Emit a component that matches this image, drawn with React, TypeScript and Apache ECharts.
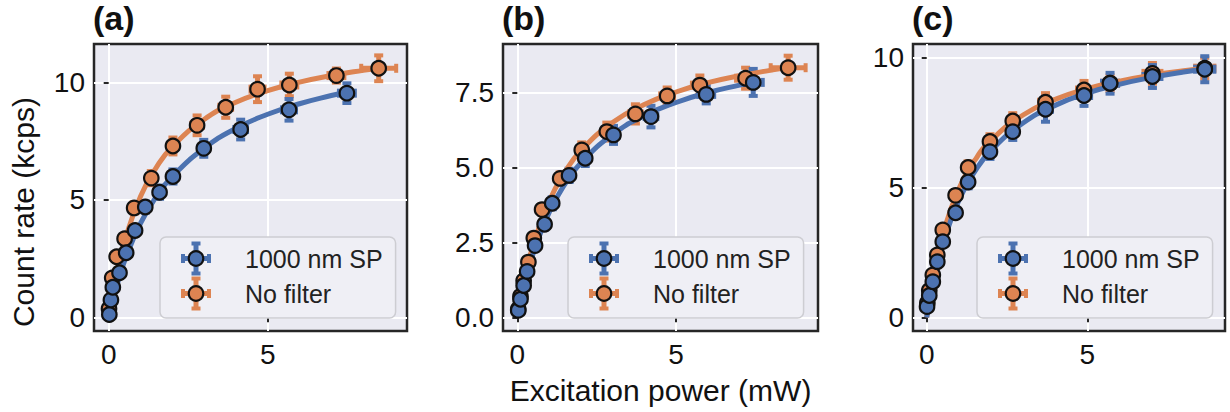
import React, { useEffect, useRef } from 'react';
import * as echarts from 'echarts';

const BLUE = '#4C72B0';
const ORANGE = '#DD8452';
const SP_NAME = '1000 nm SP';
const NF_NAME = 'No filter';
const FONT = '"Liberation Sans", Arial, Helvetica, sans-serif';

// rows: [power (mW), count rate (kcps), power error, rate error]
const aSP = [
  [0.02, 0.12, 0.01, 0.04], [0.07, 0.74, 0.01, 0.07], [0.13, 1.28, 0.02, 0.1],
  [0.34, 1.9, 0.03, 0.12], [0.55, 2.75, 0.04, 0.16], [0.83, 3.7, 0.06, 0.2],
  [1.15, 4.7, 0.08, 0.24], [1.6, 5.33, 0.1, 0.28], [2.02, 6.0, 0.12, 0.3],
  [2.99, 7.2, 0.16, 0.36], [4.15, 8.0, 0.2, 0.42], [5.67, 8.84, 0.22, 0.46],
  [7.49, 9.55, 0.25, 0.42],
];
const aNF = [
  [0.01, 0.36, 0.01, 0.05], [0.11, 1.68, 0.02, 0.1], [0.25, 2.58, 0.03, 0.14],
  [0.5, 3.35, 0.05, 0.18], [0.8, 4.66, 0.07, 0.24], [1.34, 5.93, 0.1, 0.3],
  [2.02, 7.3, 0.14, 0.36], [2.78, 8.18, 0.18, 0.42], [3.68, 8.95, 0.2, 0.45],
  [4.68, 9.72, 0.22, 0.55], [5.68, 9.9, 0.25, 0.48], [7.16, 10.3, 0.25, 0.3],
  [8.49, 10.61, 0.55, 0.55],
];
const bSP = [
  [0.03, 0.23, 0.01, 0.04], [0.1, 0.6, 0.01, 0.06], [0.2, 1.06, 0.02, 0.08],
  [0.31, 1.53, 0.03, 0.1], [0.56, 2.39, 0.04, 0.14], [0.86, 3.1, 0.06, 0.17],
  [1.1, 3.8, 0.07, 0.2], [1.63, 4.73, 0.1, 0.22], [2.14, 5.3, 0.12, 0.26],
  [3.03, 6.08, 0.16, 0.3], [4.21, 6.69, 0.2, 0.36], [5.95, 7.43, 0.25, 0.3],
  [7.43, 7.83, 0.3, 0.45],
];
const bNF = [
  [0.03, 0.27, 0.01, 0.04], [0.1, 0.7, 0.01, 0.06], [0.2, 1.22, 0.02, 0.08],
  [0.35, 1.84, 0.03, 0.1], [0.52, 2.64, 0.04, 0.14], [0.78, 3.59, 0.06, 0.17],
  [1.35, 4.63, 0.09, 0.2], [2.03, 5.58, 0.12, 0.25], [2.82, 6.19, 0.15, 0.3],
  [3.72, 6.78, 0.2, 0.32], [4.72, 7.38, 0.22, 0.28], [5.75, 7.74, 0.25, 0.32],
  [7.19, 7.97, 0.3, 0.35], [8.53, 8.32, 0.55, 0.4],
];
const cSP = [
  [0.01, 0.41, 0.01, 0.05], [0.08, 0.84, 0.01, 0.07], [0.19, 1.37, 0.02, 0.09],
  [0.33, 2.14, 0.03, 0.12], [0.5, 2.91, 0.04, 0.15], [0.9, 4.02, 0.06, 0.2],
  [1.29, 5.2, 0.08, 0.24], [1.97, 6.37, 0.12, 0.28], [2.68, 7.14, 0.15, 0.32],
  [3.7, 8.0, 0.2, 0.48], [4.9, 8.53, 0.22, 0.4], [5.71, 9.0, 0.25, 0.4],
  [7.03, 9.26, 0.28, 0.44], [8.66, 9.54, 0.3, 0.5],
];
const cNF = [
  [0.02, 0.55, 0.01, 0.05], [0.08, 1.03, 0.01, 0.07], [0.19, 1.63, 0.02, 0.1],
  [0.33, 2.4, 0.03, 0.13], [0.5, 3.36, 0.04, 0.16], [0.9, 4.69, 0.06, 0.2],
  [1.29, 5.76, 0.08, 0.24], [1.97, 6.76, 0.12, 0.28], [2.68, 7.55, 0.15, 0.3],
  [3.7, 8.27, 0.2, 0.35], [4.9, 8.74, 0.22, 0.35], [5.71, 9.0, 0.25, 0.3],
  [7.03, 9.38, 0.28, 0.4], [8.66, 9.58, 0.3, 0.4],
];

// fitted saturation curves: [power, rate]
const aSPfit = [
  [0, 0], [0.25, 1.3], [0.5, 2.4], [1, 4.0], [1.5, 5.15], [2, 6.0], [3, 7.2],
  [4, 8.05], [5, 8.65], [6, 9.1], [7, 9.45], [7.5, 9.6],
];
const aNFfit = [
  [0, 0], [0.25, 1.87], [0.5, 3.25], [1, 5.15], [1.5, 6.39], [2, 7.27], [3, 8.43],
  [4, 9.16], [5, 9.66], [6, 10.02], [7, 10.3], [8, 10.52], [8.5, 10.61],
];
const bSPfit = [
  [0, 0], [0.25, 1.2], [0.5, 2.13], [1, 3.49], [1.5, 4.44], [2, 5.14], [3, 6.09],
  [4, 6.72], [5, 7.16], [6, 7.49], [7, 7.74], [7.5, 7.85],
];
const bNFfit = [
  [0, 0], [0.25, 1.37], [0.5, 2.4], [1, 3.86], [1.5, 4.84], [2, 5.55], [3, 6.49],
  [4, 7.09], [5, 7.51], [6, 7.82], [7, 8.05], [8, 8.24], [8.5, 8.32],
];
const cSPfit = [
  [0, 0], [0.25, 1.61], [0.5, 2.81], [1, 4.49], [1.5, 5.61], [2, 6.41], [3, 7.47],
  [4, 8.15], [5, 8.62], [6, 8.96], [7, 9.22], [8, 9.43], [8.66, 9.54],
];
const cNFfit = [
  [0, 0], [0.25, 1.87], [0.5, 3.19], [1, 4.93], [1.5, 6.04], [2, 6.8], [3, 7.78],
  [4, 8.38], [5, 8.79], [6, 9.08], [7, 9.31], [8, 9.48], [8.66, 9.58],
];

const xTicks = [0, 5];
const yTicksA = [0, 5, 10];
const yTicksB = [0, 2.5, 5, 7.5];
const yTicksC = [0, 5, 10];
const panelLabels = ['(a)', '(b)', '(c)'];
const xLabel = 'Excitation power (mW)';
const yLabel = 'Count rate (kcps)';

const panels = [
  { sp: aSP, nf: aNF, spFit: aSPfit, nfFit: aNFfit, yTicks: yTicksA, xMin: -0.462, xMax: 9.38, yMin: -0.584, yMax: 11.645, left: 94, width: 313, dec: 0 },
  { sp: bSP, nf: bNF, spFit: bSPfit, nfFit: bNFfit, yTicks: yTicksB, xMin: -0.45, xMax: 9.47, yMin: -0.457, yMax: 9.11, left: 503, width: 315, dec: 1 },
  { sp: cSP, nf: cNF, spFit: cSPfit, nfFit: cNFfit, yTicks: yTicksC, xMin: -0.427, xMax: 9.29, yMin: -0.527, yMax: 10.51, left: 913, width: 312, dec: 0 },
];

function legendIcon(color: string) {
  const cx = 15, cy = 17.5;
  const svg =
    `<svg xmlns="http://www.w3.org/2000/svg" width="59" height="35" viewBox="0 0 59 35">` +
    `<g stroke="${color}" stroke-width="5"><line x1="${cx}" y1="${cy - 16}" x2="${cx}" y2="${cy + 16}"/>` +
    `<line x1="${cx - 14}" y1="${cy}" x2="${cx + 14}" y2="${cy}"/></g>` +
    `<g stroke="${color}" stroke-width="4"><line x1="${cx - 4.5}" y1="${cy - 15}" x2="${cx + 4.5}" y2="${cy - 15}"/>` +
    `<line x1="${cx - 4.5}" y1="${cy + 15}" x2="${cx + 4.5}" y2="${cy + 15}"/>` +
    `<line x1="${cx - 13}" y1="${cy - 4.5}" x2="${cx - 13}" y2="${cy + 4.5}"/>` +
    `<line x1="${cx + 13}" y1="${cy - 4.5}" x2="${cx + 13}" y2="${cy + 4.5}"/></g>` +
    `<circle cx="${cx}" cy="${cy}" r="7.3" fill="${color}" stroke="#111" stroke-width="2.2"/></svg>`;
  return 'image://data:image/svg+xml;charset=utf-8,' + encodeURIComponent(svg);
}

function errorSeries(data: number[][], color: string, idx: number, name: string) {
  return {
    type: 'custom',
    name,
    xAxisIndex: idx,
    yAxisIndex: idx,
    z: 2,
    data,
    encode: { x: 0, y: 1 },
    renderItem: (params: any, api: any) => {
      const x = api.value(0), y = api.value(1), xe = api.value(2), ye = api.value(3);
      const c = api.coord([x, y]);
      const top = api.coord([x, y + ye])[1];
      const bot = api.coord([x, y - ye])[1];
      const lft = api.coord([x - xe, y])[0];
      const rgt = api.coord([x + xe, y])[0];
      const cap = 4.5;
      const ls = { stroke: color, lineWidth: 5 };
      const cs = { stroke: color, lineWidth: 4 };
      return {
        type: 'group',
        children: [
          { type: 'line', shape: { x1: c[0], y1: top, x2: c[0], y2: bot }, style: ls },
          { type: 'line', shape: { x1: lft, y1: c[1], x2: rgt, y2: c[1] }, style: ls },
          { type: 'line', shape: { x1: c[0] - cap, y1: top, x2: c[0] + cap, y2: top }, style: cs },
          { type: 'line', shape: { x1: c[0] - cap, y1: bot, x2: c[0] + cap, y2: bot }, style: cs },
          { type: 'line', shape: { x1: lft, y1: c[1] - cap, x2: lft, y2: c[1] + cap }, style: cs },
          { type: 'line', shape: { x1: rgt, y1: c[1] - cap, x2: rgt, y2: c[1] + cap }, style: cs },
        ],
      };
    },
  };
}

export default function App() {
  const ref = useRef<HTMLDivElement>(null);
  useEffect(() => {
    if (!ref.current) return;
    const chart = echarts.init(ref.current, undefined, { renderer: 'svg' });
    const tickLabel = { fontSize: 28, color: '#111', fontFamily: FONT };
    const grids = panels.map((p) => ({
      left: p.left, top: 44, width: p.width, height: 287,
      show: true, backgroundColor: '#EAEAF2', borderColor: '#262626', borderWidth: 2.5,
    }));
    const xAxes = panels.map((p, i) => ({
      type: 'value', gridIndex: i, min: p.xMin, max: p.xMax,
      axisLine: { show: false },
      axisTick: { show: true, length: 5, customValues: xTicks, lineStyle: { color: '#262626', width: 2 } },
      axisLabel: { customValues: xTicks, margin: 9, ...tickLabel },
      splitLine: { show: true, lineStyle: { color: '#fff', width: 2 } },
      name: i === 1 ? xLabel : '',
      nameLocation: 'middle', nameGap: 44,
      nameTextStyle: { fontSize: 30, color: '#111', fontFamily: FONT },
    }));
    const yAxes = panels.map((p, i) => ({
      type: 'value', gridIndex: i, min: p.yMin, max: p.yMax,
      axisLine: { show: false },
      axisTick: { show: true, length: 5, customValues: p.yTicks, lineStyle: { color: '#262626', width: 2 } },
      axisLabel: {
        customValues: p.yTicks, margin: 9, ...tickLabel,
        formatter: (v: number) => v.toFixed(p.dec),
      },
      splitLine: { show: true, lineStyle: { color: '#fff', width: 2 } },
    }));
    const series: any[] = [];
    panels.forEach((p, i) => {
      series.push({
        type: 'line', name: NF_NAME + ' fit', xAxisIndex: i, yAxisIndex: i, data: p.nfFit,
        smooth: true, showSymbol: false, symbol: 'none', z: 3,
        lineStyle: { color: ORANGE, width: 5 }, itemStyle: { color: ORANGE },
      });
      series.push({
        type: 'line', name: SP_NAME + ' fit', xAxisIndex: i, yAxisIndex: i, data: p.spFit,
        smooth: true, showSymbol: false, symbol: 'none', z: 3,
        lineStyle: { color: BLUE, width: 5 }, itemStyle: { color: BLUE },
      });
      series.push(errorSeries(p.nf, ORANGE, i, NF_NAME));
      series.push(errorSeries(p.sp, BLUE, i, SP_NAME));
      series.push({
        type: 'scatter', name: NF_NAME, xAxisIndex: i, yAxisIndex: i,
        data: p.nf.map((r) => [r[0], r[1]]), symbolSize: 14.5, z: 4,
        itemStyle: { color: ORANGE, borderColor: '#111', borderWidth: 2.2, opacity: 1 },
      });
      series.push({
        type: 'scatter', name: SP_NAME, xAxisIndex: i, yAxisIndex: i,
        data: p.sp.map((r) => [r[0], r[1]]), symbolSize: 14.5, z: 5,
        itemStyle: { color: BLUE, borderColor: '#111', borderWidth: 2.2, opacity: 1 },
      });
    });
    const legendLefts = [160, 568, 977];
    chart.setOption({
      animation: false,
      title: panelLabels.map((t, i) => ({
        text: t, left: panels[i].left - 1, top: 1, padding: 0,
        textStyle: { fontSize: 34, fontWeight: 'bold', color: '#111', fontFamily: FONT },
      })),
      grid: grids,
      xAxis: xAxes,
      yAxis: yAxes,
      legend: legendLefts.map((l) => ({
        orient: 'vertical', left: l, top: 237,
        itemWidth: 59, itemHeight: 35, itemGap: 0,
        padding: [4, 13, 7, 21],
        backgroundColor: '#EFEFF5', borderColor: '#CDCDD2', borderWidth: 1.5, borderRadius: 6,
        selectedMode: false,
        textStyle: { fontSize: 25, color: '#222', fontFamily: FONT },
        data: [
          { name: SP_NAME, icon: legendIcon(BLUE) },
          { name: NF_NAME, icon: legendIcon(ORANGE) },
        ],
      })),
      graphic: [{
        type: 'text', x: 23, y: 212, rotation: Math.PI / 2,
        style: { text: yLabel, fontSize: 30, fill: '#111', fontFamily: FONT, textAlign: 'center', textVerticalAlign: 'middle' },
      }],
      series,
    });
    return () => chart.dispose();
  }, []);
  return <div ref={ref} style={{ position: 'absolute', left: 0, top: 0, width: 1230, height: 412 }} />;
}
